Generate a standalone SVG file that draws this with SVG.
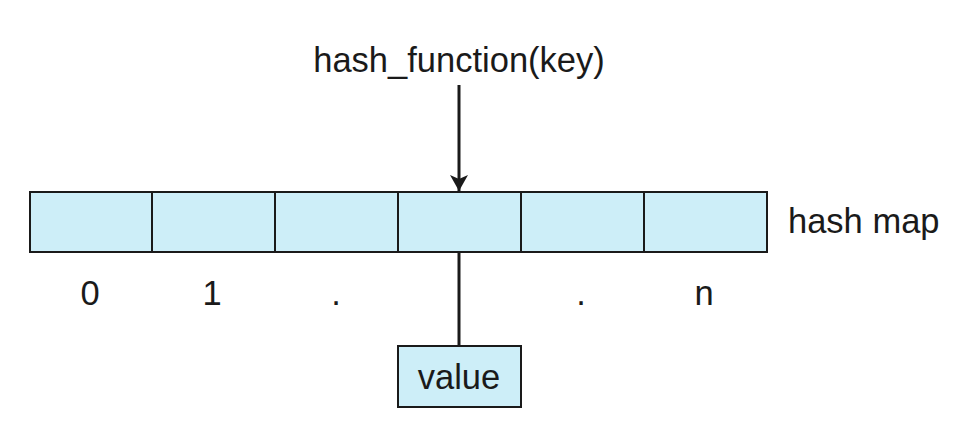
<svg xmlns="http://www.w3.org/2000/svg" width="968" height="445" viewBox="0 0 968 445">
<style>
text{font-family:"Liberation Sans",Arial,sans-serif;font-size:34.5px;fill:#1a1a1a}
.c{fill:#cdeef8;stroke:#1a1a1a;stroke-width:2}
.l{stroke:#1a1a1a;stroke-width:3;fill:none}
</style>
<defs>
<marker id="ah" viewBox="0 0 16 18" refX="16" refY="9" markerWidth="16" markerHeight="18" orient="auto" markerUnits="userSpaceOnUse"><path d="M0,0L16,9L0,18L4,9z" fill="#1a1a1a"/></marker></defs>
<rect width="968" height="445" fill="#fff"/>
<text x="459" y="72" text-anchor="middle">hash_function(key)</text>
<g id="map">
<rect class="c" x="30" y="192" width="122" height="60"/>
<rect class="c" x="152" y="192" width="123" height="60"/>
<rect class="c" x="275" y="192" width="123" height="60"/>
<rect class="c" x="398" y="192" width="123" height="60"/>
<rect class="c" x="521" y="192" width="123" height="60"/>
<rect class="c" x="644" y="192" width="123" height="60"/>
</g>
<text x="788" y="233">hash map</text>
<g text-anchor="middle">
<text x="90" y="305">0</text><text x="212" y="305">1</text><text x="336" y="305">.</text><text x="581" y="305">.</text><text x="704" y="305">n</text>
</g>
<g id="connectors">
<line class="l" x1="459" y1="85" x2="459" y2="191" marker-end="url(#ah)"/>
<line class="l" x1="459" y1="252" x2="459" y2="346"/>
</g>
<g id="value">
<rect class="c" x="398" y="346" width="123" height="61"/>
<text x="459" y="389" text-anchor="middle">value</text>
</g>
</svg>
